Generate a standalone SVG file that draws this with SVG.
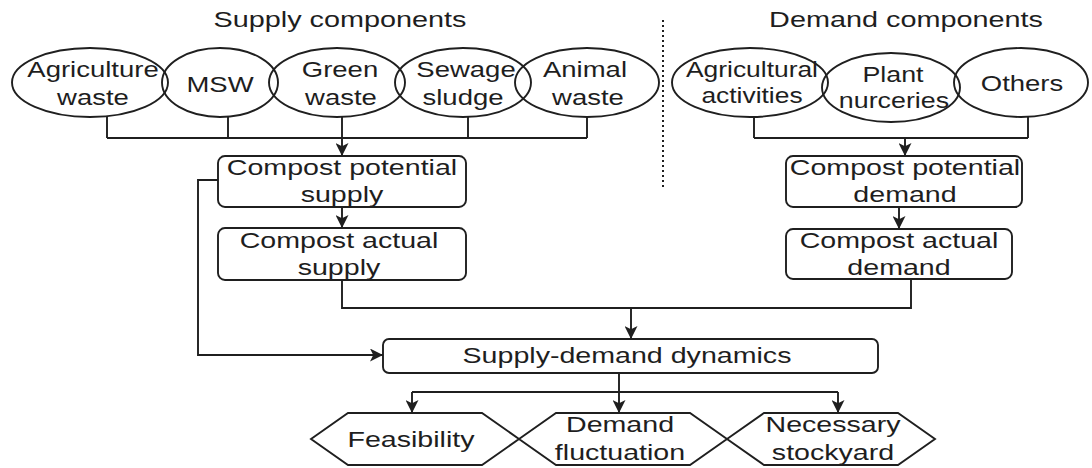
<svg xmlns="http://www.w3.org/2000/svg" width="1092" height="468" viewBox="0 0 1092 468">
<style>
  .shape { fill: none; stroke: #1f1f1f; stroke-width: 1.9; }
  .box { fill: #ffffff; stroke: #1f1f1f; stroke-width: 1.9; }
  .conn { fill: none; stroke: #1f1f1f; stroke-width: 1.9; }
  .t { font-family: "Liberation Sans", Arial, sans-serif; font-size: 22px; fill: #1e1e1e; text-anchor: middle; }
</style>
<defs>
  <marker id="arr" viewBox="0 0 10 10" refX="10" refY="5" markerWidth="13" markerHeight="13" markerUnits="userSpaceOnUse" orient="auto">
    <path d="M0,0 L10,5 L0,10 L2.5,5 z" fill="#1f1f1f"/>
  </marker>
</defs>
<rect width="1092" height="468" fill="#ffffff"/>

<g id="titles">
  <text class="t" transform="translate(340,27) scale(1.31,1)">Supply components</text>
  <text class="t" transform="translate(906,27) scale(1.31,1)">Demand components</text>
  <line x1="663" y1="20" x2="663" y2="190" stroke="#1f1f1f" stroke-width="2" stroke-dasharray="2 3"/>
</g>

<g id="connectors">
  <path class="conn" d="M107 116 V138 M228 116 V138 M468 116 V138 M587 116 V138 M107 138 H587"/>
  <path class="conn" d="M342 116 V156" marker-end="url(#arr)"/>
  <path class="conn" d="M754 116 V138 M1028 116 V138 M754 138 H1028"/>
  <path class="conn" d="M905 138 V156" marker-end="url(#arr)"/>
  <path class="conn" d="M342 207 V228" marker-end="url(#arr)"/>
  <path class="conn" d="M899 207 V229" marker-end="url(#arr)"/>
  <path class="conn" d="M342 280 V308 H911 V279"/>
  <path class="conn" d="M631 308 V339" marker-end="url(#arr)"/>
  <path class="conn" d="M218 180 H198 V355 H383" marker-end="url(#arr)"/>
  <path class="conn" d="M619 373 V413" marker-end="url(#arr)"/>
  <path class="conn" d="M412 392 H838"/>
  <path class="conn" d="M412 392 V413" marker-end="url(#arr)"/>
  <path class="conn" d="M838 392 V413" marker-end="url(#arr)"/>
</g>

<g id="agriculture-waste">
  <ellipse class="shape" cx="90" cy="82.5" rx="78" ry="34.5"/>
  <text class="t" transform="translate(93,77) scale(1.25,1)">Agriculture</text>
  <text class="t" transform="translate(93,105) scale(1.25,1)">waste</text>
</g>
<g id="msw">
  <ellipse class="shape" cx="220" cy="82.5" rx="58" ry="34.5"/>
  <text class="t" transform="translate(220,92) scale(1.25,1)">MSW</text>
</g>
<g id="green-waste">
  <ellipse class="shape" cx="337" cy="82.5" rx="68" ry="34.5"/>
  <text class="t" transform="translate(340,77) scale(1.25,1)">Green</text>
  <text class="t" transform="translate(341,105) scale(1.25,1)">waste</text>
</g>
<g id="sewage-sludge">
  <ellipse class="shape" cx="463" cy="82.5" rx="68" ry="34.5"/>
  <text class="t" transform="translate(466,77) scale(1.25,1)">Sewage</text>
  <text class="t" transform="translate(463,105) scale(1.25,1)">sludge</text>
</g>
<g id="animal-waste">
  <ellipse class="shape" cx="587" cy="82.5" rx="72" ry="34.5"/>
  <text class="t" transform="translate(585,77) scale(1.25,1)">Animal</text>
  <text class="t" transform="translate(588,105) scale(1.25,1)">waste</text>
</g>

<g id="agricultural-activities">
  <ellipse class="shape" cx="750" cy="82.5" rx="78" ry="34.5"/>
  <text class="t" transform="translate(752,77) scale(1.2,1)">Agricultural</text>
  <text class="t" transform="translate(752,103) scale(1.2,1)">activities</text>
</g>
<g id="plant-nurceries">
  <ellipse class="shape" cx="891" cy="87.5" rx="69" ry="34.5"/>
  <text class="t" transform="translate(893,82) scale(1.22,1)">Plant</text>
  <text class="t" transform="translate(894,108) scale(1.22,1)">nurceries</text>
</g>
<g id="others">
  <ellipse class="shape" cx="1021" cy="82.5" rx="67" ry="34.5"/>
  <text class="t" transform="translate(1022,91) scale(1.25,1)">Others</text>
</g>

<g id="compost-potential-supply">
  <rect class="box" x="218" y="156" width="248" height="51" rx="7"/>
  <text class="t" transform="translate(342,175) scale(1.3,1)">Compost potential</text>
  <text class="t" transform="translate(342,202) scale(1.3,1)">supply</text>
</g>
<g id="compost-actual-supply">
  <rect class="box" x="218" y="228" width="248" height="52" rx="7"/>
  <text class="t" transform="translate(339,248) scale(1.3,1)">Compost actual</text>
  <text class="t" transform="translate(339,275) scale(1.3,1)">supply</text>
</g>
<g id="compost-potential-demand">
  <rect class="box" x="786" y="156" width="236" height="51" rx="7"/>
  <text class="t" transform="translate(905,175) scale(1.3,1)">Compost potential</text>
  <text class="t" transform="translate(905,202) scale(1.3,1)">demand</text>
</g>
<g id="compost-actual-demand">
  <rect class="box" x="786" y="229" width="226" height="50" rx="7"/>
  <text class="t" transform="translate(899,248) scale(1.3,1)">Compost actual</text>
  <text class="t" transform="translate(899,275) scale(1.3,1)">demand</text>
</g>

<g id="supply-demand-dynamics">
  <rect class="box" x="383" y="339" width="495" height="34" rx="6"/>
  <text class="t" transform="translate(627,363) scale(1.3,1)">Supply-demand dynamics</text>
</g>

<g id="feasibility">
  <polygon class="shape" points="311,439 348,413 482,413 519,439 482,465 348,465"/>
  <text class="t" transform="translate(411,447) scale(1.3,1)">Feasibility</text>
</g>
<g id="demand-fluctuation">
  <polygon class="shape" points="519,439 556,413 690,413 727,439 690,465 556,465"/>
  <text class="t" transform="translate(620,432) scale(1.3,1)">Demand</text>
  <text class="t" transform="translate(620,460) scale(1.3,1)">fluctuation</text>
</g>
<g id="necessary-stockyard">
  <polygon class="shape" points="727,439 764,413 898,413 935,439 898,465 764,465"/>
  <text class="t" transform="translate(833,432) scale(1.3,1)">Necessary</text>
  <text class="t" transform="translate(833,460) scale(1.3,1)">stockyard</text>
</g>
</svg>
